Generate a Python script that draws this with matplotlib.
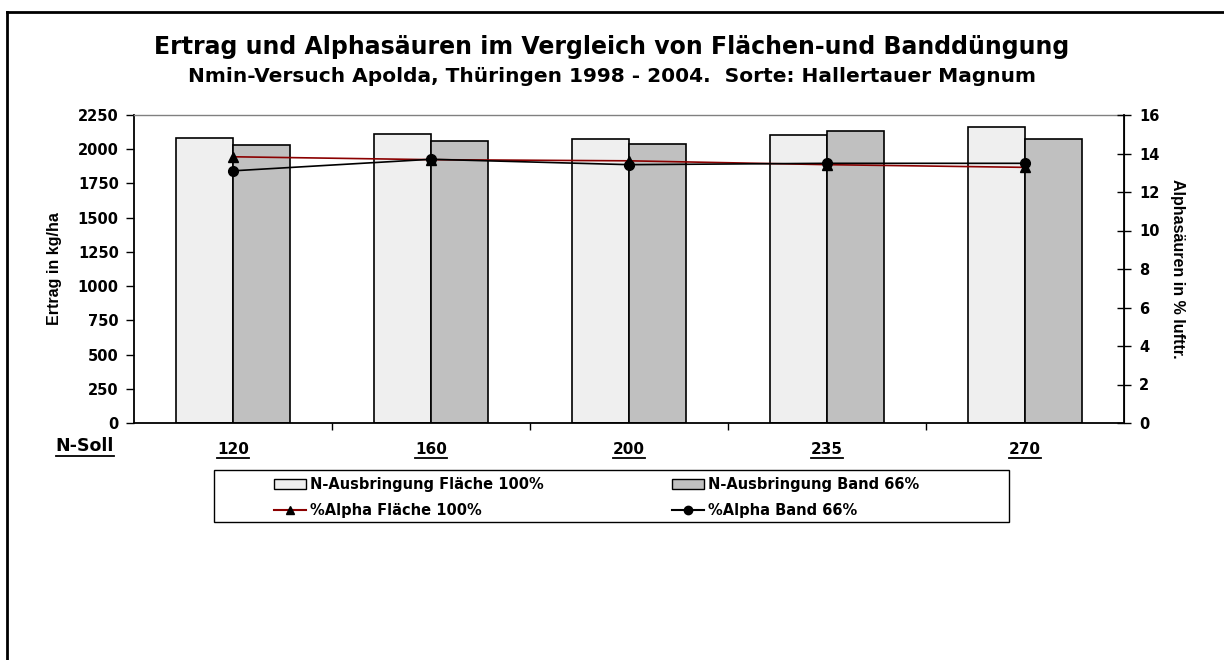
import numpy as np
import matplotlib
matplotlib.use("Agg")
import matplotlib.pyplot as plt
from matplotlib.lines import Line2D
from matplotlib.patches import Patch, Rectangle

plt.rcParams['font.family'] = ['DejaVu Sans']
plt.rcParams['font.weight'] = 'bold'

# Daten
n_soll = ['120', '160', '200', '235', '270']
ertrag_flaeche = [2085, 2108, 2078, 2102, 2160]
ertrag_band = [2034, 2057, 2036, 2130, 2072]
alpha_flaeche = [13.83, 13.68, 13.62, 13.42, 13.28]
alpha_band = [13.10, 13.70, 13.42, 13.49, 13.49]

W, H = 1224, 660
fig = plt.figure(figsize=(12.24, 6.6), dpi=100)
ax = fig.add_axes([134 / W, 1 - 423 / H, 990 / W, 308 / H])

x = np.arange(len(n_soll))
w = 0.288
ax.bar(x - w / 2, ertrag_flaeche, w, color='#efefef', edgecolor='black', linewidth=1.2)
ax.bar(x + w / 2, ertrag_band, w, color='#c0c0c0', edgecolor='black', linewidth=1.2)

ax.set_xlim(-0.5, len(n_soll) - 0.5)
ax.set_ylim(0, 2250)
ax.set_yticks(np.arange(0, 2251, 250))
ax.set_xticks(x)
ax.set_xticklabels(n_soll, fontsize=11, fontweight='bold')
ax.set_xticks(np.arange(0.5, len(n_soll) - 0.5, 1), minor=True)
ax.tick_params(axis='x', which='major', length=0, pad=14)
ax.tick_params(axis='x', which='minor', length=5, direction='out', width=1)
ax.tick_params(axis='y', length=6, direction='out', width=1, labelsize=10.5, pad=5)
ax.set_ylabel('Ertrag in kg/ha', fontsize=11.5, fontweight='bold',
              family='Liberation Sans')
ax.yaxis.set_label_coords((62 - 134) / 990, 0.5)
for s in ['left', 'bottom']:
    ax.spines[s].set_linewidth(1.3)
ax.spines['top'].set_color('#808080')
ax.spines['top'].set_linewidth(1)

ax2 = ax.twinx()
ax2.plot(x, alpha_flaeche, color='#8b0000', linewidth=1.2, marker='^', markersize=7,
         markerfacecolor='black', markeredgecolor='black')
ax2.plot(x, alpha_band, color='black', linewidth=1.2, marker='o', markersize=7,
         markerfacecolor='black', markeredgecolor='black')
ax2.set_ylim(0, 16)
ax2.set_yticks(np.arange(0, 17, 2))
ax2.tick_params(axis='y', length=10, direction='inout', width=1, labelsize=10.5, pad=6)
ax2.set_ylabel('Alphasäuren in % lufttr.', fontsize=11.5, fontweight='bold',
               family='Liberation Sans', rotation=-90)
ax2.yaxis.set_label_coords((1185 - 134) / 990, 0.5)
ax2.spines['right'].set_linewidth(1.3)
ax2.spines['top'].set_visible(False)
ax2.spines['left'].set_visible(False)
ax2.spines['bottom'].set_visible(False)

fig.text(0.5, 1 - 47 / H, 'Ertrag und Alphasäuren im Vergleich von Flächen-und Banddüngung',
         ha='center', va='center', fontsize=17, fontweight='bold')
fig.text(0.5, 1 - 77 / H, 'Nmin-Versuch Apolda, Thüringen 1998 - 2004.  Sorte: Hallertauer Magnum',
         ha='center', va='center', fontsize=14.5, fontweight='bold')
nsoll = fig.text(85 / W, 1 - 446 / H, 'N-Soll', ha='center', va='center',
                 fontsize=12.5, fontweight='bold')

# Legende: Rahmen separat, zwei Spalten als eigene Legenden
fig.add_artist(Rectangle((214 / W, 1 - 522 / H), 795 / W, 52 / H, transform=fig.transFigure,
                         facecolor='white', edgecolor='black', linewidth=1, zorder=0))
leg_kw = dict(loc='upper left', frameon=False, borderpad=0, borderaxespad=0,
              prop={'size': 10.5, 'weight': 'bold'}, handlelength=2.2,
              handletextpad=0.3, labelspacing=0.75)
h1 = [Patch(facecolor='#efefef', edgecolor='black'),
      Line2D([], [], color='#8b0000', marker='^', markerfacecolor='black',
             markeredgecolor='black', markersize=6)]
h2 = [Patch(facecolor='#c0c0c0', edgecolor='black'),
      Line2D([], [], color='black', marker='o', markerfacecolor='black',
             markeredgecolor='black', markersize=6)]
fig.legend(h1, ['N-Ausbringung Fläche 100%', '%Alpha Fläche 100%'],
           bbox_to_anchor=(274 / W, 1 - 477 / H), **leg_kw)
fig.legend(h2, ['N-Ausbringung Band 66%', '%Alpha Band 66%'],
           bbox_to_anchor=(672 / W, 1 - 477 / H), **leg_kw)

# Unterstreichungen
fig.canvas.draw()
r = fig.canvas.get_renderer()
for t in list(ax.get_xticklabels()) + [nsoll]:
    bb = t.get_window_extent(r).transformed(fig.transFigure.inverted())
    fig.add_artist(Line2D([bb.x0, bb.x1], [bb.y0 - 0.001, bb.y0 - 0.001],
                          color='black', linewidth=1.3))

# Rahmen
fig.add_artist(Line2D([7 / W, 7 / W], [0, 1 - 12 / H], color='black', linewidth=2))
fig.add_artist(Line2D([7 / W, 1], [1 - 12 / H, 1 - 12 / H], color='black', linewidth=2))

fig.savefig('out.png', dpi=100)
